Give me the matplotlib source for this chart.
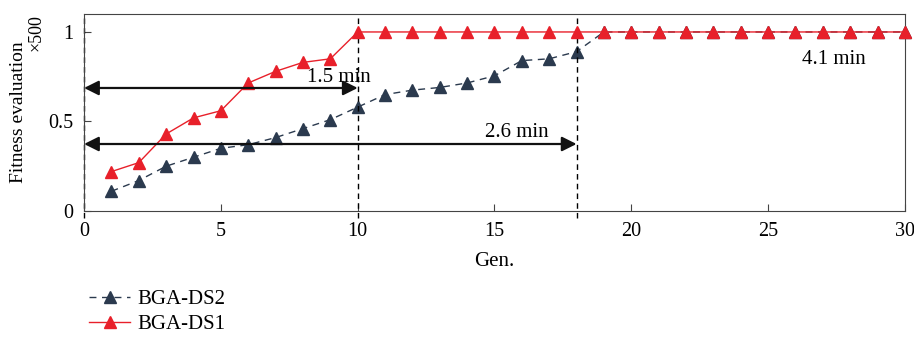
import matplotlib.pyplot as plt

plt.rcParams['font.family'] = ['Liberation Serif', 'DejaVu Serif']

gens = list(range(1, 31))
ds1 = [0.22, 0.27, 0.43, 0.52, 0.56, 0.715, 0.78, 0.83, 0.85] + [1.0] * 21
ds2 = [0.11, 0.17, 0.25, 0.30, 0.35, 0.37, 0.41, 0.46, 0.51, 0.58,
       0.65, 0.675, 0.69, 0.715, 0.755, 0.84, 0.85, 0.89] + [1.0] * 12

red = '#e8202a'
navy = '#2b3a4e'

fig = plt.figure(figsize=(9.14, 3.43), dpi=100)
ax = fig.add_axes([0.092, 0.385, 0.898, 0.574])

l2, = ax.plot(gens, ds2, ls=(0, (5, 4)), color=navy, lw=1, marker='^', ms=9,
              markerfacecolor=navy, markeredgecolor=navy, clip_on=False)
l1, = ax.plot(gens, ds1, '-', color=red, lw=1, marker='^', ms=9,
              markerfacecolor=red, markeredgecolor=red, clip_on=False, zorder=3)

# vertical dashed markers
for xv in [0, 10, 18]:
    ax.plot([xv, xv], [-0.04, 1.1], ls=(0, (4, 3)), color='black', lw=1, clip_on=False)

# time arrows
arrow = dict(arrowstyle='<|-|>', color='#111111', lw=1.6, mutation_scale=22,
             shrinkA=0, shrinkB=0)
ax.annotate('', xy=(0, 0.687), xytext=(10, 0.687), arrowprops=arrow)
ax.annotate('', xy=(0, 0.374), xytext=(18, 0.374), arrowprops=arrow)
ax.text(9.3, 0.745, '1.5 min', ha='center', va='center', fontsize=15)
ax.text(15.8, 0.436, '2.6 min', ha='center', va='center', fontsize=15)
ax.text(27.4, 0.845, '4.1 min', ha='center', va='center', fontsize=15)

ax.set_xlim(0, 30)
ax.set_ylim(0, 1.1)
ax.set_xticks([0, 5, 10, 15, 20, 25, 30])
ax.set_yticks([0, 0.5, 1])
ax.set_yticklabels(['0', '0.5', '1'])
ax.tick_params(direction='in', labelsize=14.5, length=5, color='#444444', pad=8)
ax.set_xlabel('Gen.', fontsize=15, labelpad=8)
ax.set_ylabel('Fitness evaluation', fontsize=14, labelpad=15)
for s in ax.spines.values():
    s.set_color('#444444')
fig.text(0.040, 0.96, '×500', rotation=90, ha='center', va='top', fontsize=13)

fig.legend([l2, l1], ['BGA-DS2', 'BGA-DS1'], loc='upper left',
           bbox_to_anchor=(0.088, 0.18), frameon=False, fontsize=15,
           handlelength=2.0, handletextpad=0.35, labelspacing=0.25, borderaxespad=0)

fig.savefig('out.png', dpi=100)
